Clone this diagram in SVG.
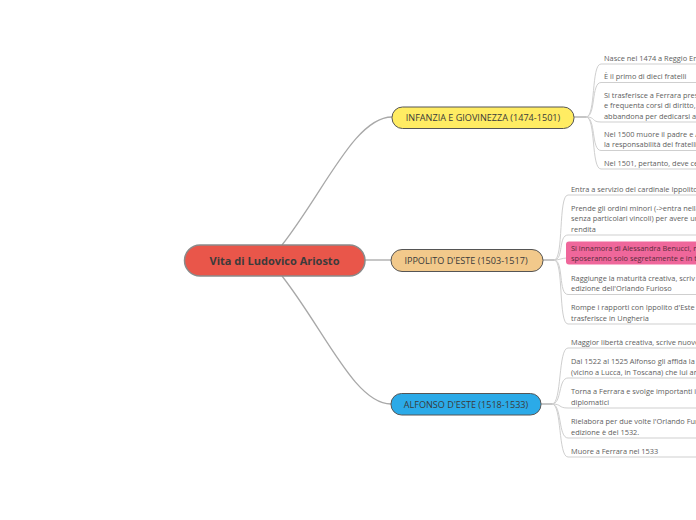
<svg xmlns="http://www.w3.org/2000/svg" width="696" height="520" viewBox="0 0 696 520">
<style>
.leaf{font-family:"Open Sans","DejaVu Sans",sans-serif;font-size:7.4px;fill:#5e5e5e}
.br{font-family:"Open Sans","DejaVu Sans",sans-serif;font-size:9.1px;fill:#3a3a3a;text-anchor:middle}
.root{font-family:"Open Sans","DejaVu Sans",sans-serif;font-size:11px;font-weight:bold;fill:#3b3b3b;text-anchor:middle}
.mc{fill:none;stroke:#a8a8a8;stroke-width:1.3}
.lc{fill:none;stroke:#cfcfcf;stroke-width:1}
</style>
<rect width="696" height="520" fill="#ffffff"/>
<g id="connectors">
<path class="mc" d="M282,245 C325,190 355,117 392,117"/>
<path class="mc" d="M365,260 H391"/>
<path class="mc" d="M282,276 C325,331 355,404 391,404"/>
<path class="mc" d="M574,117 H586"/>
<path class="mc" d="M543,260 H554"/>
<path class="mc" d="M541,404 H552"/>
<path class="lc" d="M586,117 C596,117 591,64 601,64 H700"/>
<path class="lc" d="M586,117 C596,117 591,82.5 601,82.5 H700"/>
<path class="lc" d="M586,117 C596,117 591,122 601,122 H700"/>
<path class="lc" d="M586,117 C596,117 591,150.5 601,150.5 H700"/>
<path class="lc" d="M586,117 C596,117 591,169 601,169 H700"/>
<path class="lc" d="M554,260 C564,260 558,195 568,195 H700"/>
<path class="lc" d="M554,260 C564,260 558,235 568,235 H700"/>
<path class="lc" d="M554,260 C560,260 562,258 567,258"/>
<path class="lc" d="M554,260 C564,260 558,294.5 568,294.5 H700"/>
<path class="lc" d="M554,260 C564,260 558,324 568,324 H700"/>
<path class="lc" d="M552,404 C562,404 558,348 568,348 H700"/>
<path class="lc" d="M552,404 C562,404 558,378 568,378 H700"/>
<path class="lc" d="M552,404 C562,404 558,408 568,408 H700"/>
<path class="lc" d="M552,404 C562,404 558,438 568,438 H700"/>
<path class="lc" d="M552,404 C562,404 558,457 568,457 H700"/>
</g>
<g id="root">
<rect x="184.5" y="245" width="180.5" height="31" rx="15.5" fill="#E9564A" stroke="#8a8a8a" stroke-width="1.5"/>
<text class="root" x="274.5" y="264.5">Vita di Ludovico Ariosto</text>
</g>
<g id="infanzia">
<rect x="392" y="107" width="182" height="21.5" rx="10.5" fill="#FFEC63" stroke="#555" stroke-width="1"/>
<text class="br" x="483" y="121">INFANZIA E GIOVINEZZA (1474-1501)</text>
</g>
<g id="ippolito">
<rect x="391" y="249.5" width="152" height="22" rx="11" fill="#F2C98B" stroke="#555" stroke-width="1"/>
<text class="br" x="466" y="263.8">IPPOLITO D'ESTE (1503-1517)</text>
</g>
<g id="alfonso">
<rect x="391" y="393.5" width="150" height="21.5" rx="10.5" fill="#2BAAE8" stroke="#555" stroke-width="1"/>
<text class="br" x="466" y="407.6">ALFONSO D'ESTE (1518-1533)</text>
</g>
<g id="leaf-1-1"><text class="leaf" x="604" y="60.7">Nasce nel 1474 a Reggio Em</text></g>
<g id="leaf-1-2"><text class="leaf" x="604" y="79.2">È il primo di dieci fratelli</text></g>
<g id="leaf-1-3"><text class="leaf" x="604" y="97.7">Si trasferisce a Ferrara pres</text><text class="leaf" x="604" y="108.2">e frequenta corsi di diritto,</text><text class="leaf" x="604" y="118.7">abbandona per dedicarsi al</text></g>
<g id="leaf-1-4"><text class="leaf" x="604" y="136.7">Nel 1500 muore il padre e A</text><text class="leaf" x="604" y="147.2">la responsabilità dei fratelli</text></g>
<g id="leaf-1-5"><text class="leaf" x="604" y="165.7">Nel 1501, pertanto, deve ce</text></g>
<g id="leaf-2-1"><text class="leaf" x="571" y="191.7">Entra a servizio del cardinale Ippolito</text></g>
<g id="leaf-2-2"><text class="leaf" x="571" y="210.7">Prende gli ordini minori (-&gt;entra nella</text><text class="leaf" x="571" y="221.2">senza particolari vincoli) per avere un</text><text class="leaf" x="571" y="231.7">rendita</text></g>
<g id="leaf-2-3"><rect x="566" y="241.5" width="140" height="23" rx="3" fill="#EF679B"/><text class="leaf" x="571" y="250.7" style="fill:#5a2c3c">Si innamora di Alessandra Benucci, n</text><text class="leaf" x="571" y="261.2" style="fill:#5a2c3c">sposeranno solo segretamente e in ta</text></g>
<g id="leaf-2-4"><text class="leaf" x="571" y="280.7">Raggiunge la maturità creativa, scriv</text><text class="leaf" x="571" y="291.2">edizione dell'Orlando Furioso</text></g>
<g id="leaf-2-5"><text class="leaf" x="571" y="310.2">Rompe i rapporti con Ippolito d'Este c</text><text class="leaf" x="571" y="320.7">trasferisce in Ungheria</text></g>
<g id="leaf-3-1"><text class="leaf" x="571" y="344.7">Maggior libertà creativa, scrive nuove</text></g>
<g id="leaf-3-2"><text class="leaf" x="571" y="363.7">Dal 1522 al 1525 Alfonso gli affida la</text><text class="leaf" x="571" y="374.7">(vicino a Lucca, in Toscana) che lui an</text></g>
<g id="leaf-3-3"><text class="leaf" x="571" y="393.7">Torna a Ferrara e svolge importanti in</text><text class="leaf" x="571" y="404.7">diplomatici</text></g>
<g id="leaf-3-4"><text class="leaf" x="571" y="423.7">Rielabora per due volte l'Orlando Fur</text><text class="leaf" x="571" y="434.7">edizione è del 1532.</text></g>
<g id="leaf-3-5"><text class="leaf" x="571" y="453.7">Muore a Ferrara nel 1533</text></g>
</svg>
